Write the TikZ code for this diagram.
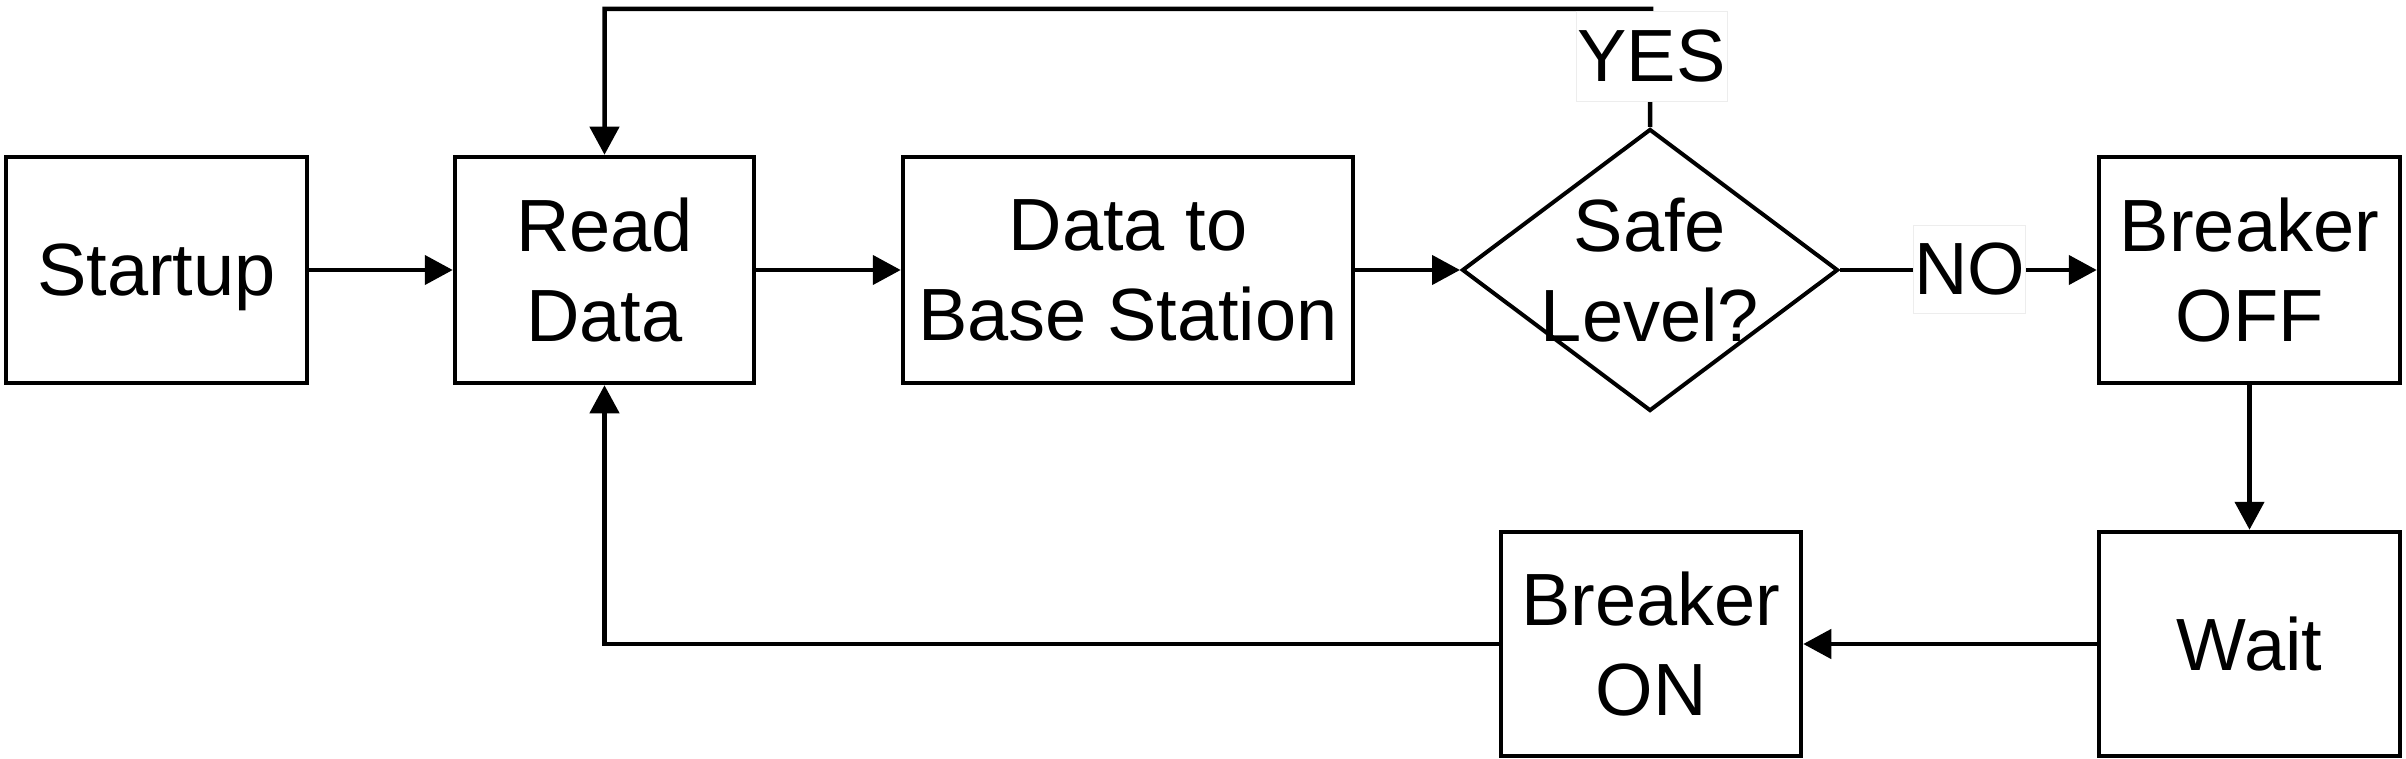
\documentclass[tikz,border=0pt]{standalone}
\usepackage{fontspec}
\setmainfont{Liberation Sans}
\usetikzlibrary{arrows.meta,shapes.geometric}
\begin{document}
\begin{tikzpicture}[x=1pt,y=-1pt,
  every node/.style={font=\fontsize{74}{90}\selectfont, align=center},
  box/.style={draw, line width=4.5pt, inner sep=0pt},
  dia/.style={draw, shape=diamond, line width=4pt, inner sep=0pt, minimum width=376pt, minimum height=282pt},
  lbl/.style={fill=white, draw=black!7, line width=0.8pt, inner sep=0pt},
  conn/.style={line width=4.5pt, -{Triangle[length=28pt,width=29pt]}},
  plain/.style={line width=4.5pt}]
\useasboundingbox[fill=white] (0,0) rectangle (2406,759);

\node[box, minimum width=301pt, minimum height=226pt, text depth=0pt] (start) at (156.5,270) {Startup};
\node[box, minimum width=299pt, minimum height=226pt] (read) at (604.5,270) {Read\\Data};
\node[box, minimum width=450pt, minimum height=226pt] (base) at (1128,270) {Data to\\Base Station};
\node[dia] (safe) at (1650,270) {};
\node (safetext) at (1650,270) {Safe\\Level?};
\node[box, minimum width=301pt, minimum height=226pt] (off) at (2249.5,270) {Breaker\\OFF};
\node[box, minimum width=301pt, minimum height=224pt] (wait) at (2249.5,644) {Wait};
\node[box, minimum width=300pt, minimum height=224pt] (on) at (1651,644) {Breaker\\ON};

\coordinate (tr) at (1651,9);
\coordinate (tl) at (604.5,9);
\coordinate (bl) at (604.5,644);

\draw[conn] (start.east) -- (read.west);
\draw[conn] (read.east) -- (base.west);
\draw[conn] (base.east) -- (safe.west);
\draw[conn] (safe.east) -- (off.west);
\draw[conn] (off.south) -- (wait.north);
\draw[conn] (wait.west) -- (on.east);
\draw[conn] (on.west) -- (bl) -- (read.south);
\draw[conn, line join=miter] (safe.north) -- (tr) -- (tl) -- (read.north);

\node[lbl, minimum width=151pt, minimum height=90pt] (yes) at (1651.5,56) {YES};
\node[lbl, minimum width=112pt, minimum height=88pt] (no) at (1969.5,269) {NO};
\end{tikzpicture}
\end{document}
